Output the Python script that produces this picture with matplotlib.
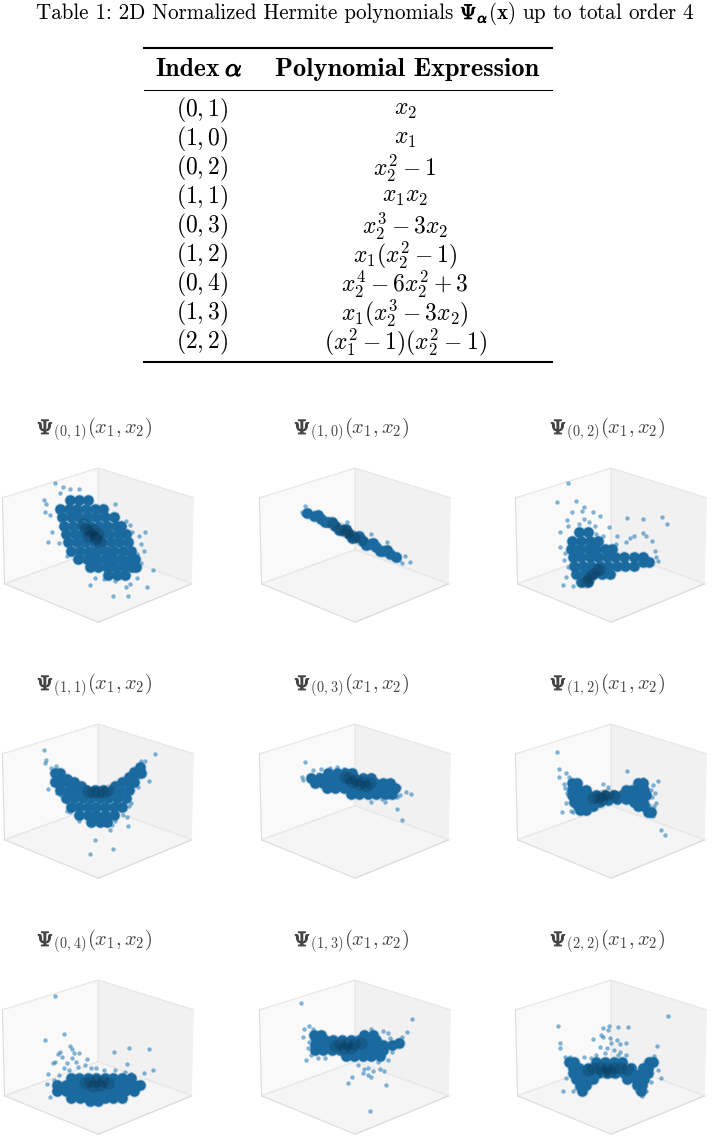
import numpy as np
import matplotlib
matplotlib.use('Agg')
from matplotlib import pyplot as plt
from matplotlib.lines import Line2D
from matplotlib import patheffects as pe

# table content
caption_left = 'Table 1: 2D Normalized Hermite polynomials '
caption_psi = r'$\Psi_{\alpha}$'
caption_rest = r'$(\mathbf{x})$ up to total order 4'
index_labels = ['(0,1)', '(1,0)', '(0,2)', '(1,1)', '(0,3)', '(1,2)', '(0,4)', '(1,3)', '(2,2)']
expressions = ['x_2', 'x_1', 'x_2^2-1', 'x_1x_2', 'x_2^3-3x_2', 'x_1(x_2^2-1)',
               'x_2^4-6x_2^2+3', 'x_1(x_2^3-3x_2)', '(x_1^2-1)(x_2^2-1)']

# clouds as (across, drop) in 1/3 pixel steps
# stray = single dots, body = filled mass, deep = darkest part
stray_01 = [(172,230),(194,241),(240,248),(215,246),(185,258),(139,279),(144,291),(142,315),(157,324),(160,375),(150,404),(180,408),(205,447),(343,292),(315,300),(375,342),(388,352),(393,375),(431,374),(415,385),(420,410),(430,430),(410,440),(420,468),(455,490),(440,540),(382,567),(339,567),(378,541),(390,530),(270,534),(345,523),(285,513),(312,515),(410,512)]
body_01 = [(215,280),(240,280),(265,280),(185,305),(210,305),(235,305),(260,305),(285,305),(310,305),(190,330),(215,330),(240,330),(265,330),(290,330),(315,330),(340,330),(197,355),(222,355),(247,355),(272,355),(297,355),(322,355),(347,355),(362,355),(202,380),(227,380),(252,380),(277,380),(302,380),(327,380),(352,380),(375,380),(207,405),(232,405),(257,405),(282,405),(307,405),(332,405),(357,405),(382,405),(217,430),(242,430),(267,430),(292,430),(317,430),(342,430),(367,430),(392,430),(237,455),(262,455),(287,455),(312,455),(337,455),(362,455),(387,455),(402,455),(270,480),(295,480),(320,480),(345,480),(370,480),(395,480),(405,480),(325,505),(350,505),(375,505)]
deep_01 = [(250,350),(260,365),(270,370),(275,380),(285,390),(290,395),(300,405),(265,385),(295,380),(280,365)]

stray_10 = [(168,297),(160,315),(162,320),(180,312),(290,345),(360,380),(405,405),(460,445),(475,463),(450,468),(440,458)]
body_10 = [(175,318),(195,325),(215,335),(235,345),(255,357),(275,368),(295,380),(315,390),(335,400),(355,410),(375,420),(395,430),(415,440),(432,450),(205,322),(245,345),(285,365),(325,385),(365,408),(405,428),(225,345),(265,368),(305,392),(345,412),(385,432)]
deep_10 = [(250,350),(270,362),(290,375),(310,388),(330,398),(280,370),(300,382)]

stray_02 = [(195,230),(163,284),(218,283),(240,300),(235,312),(205,315),(265,315),(287,325),(190,338),(240,335),(255,345),(225,350),(193,355),(170,373),(270,355),(312,360),(250,372),(275,380),(295,385),(336,385),(364,331),(409,335),(466,328),(481,349),(410,378),(385,385),(372,392),(418,385),(437,402),(360,405),(332,410),(168,418),(182,436),(180,458),(190,480),(185,510),(176,535),(205,538),(450,450),(455,462),(445,430)]
body_02 = [(225,375),(250,375),(205,400),(230,400),(255,400),(280,400),(200,425),(225,425),(250,425),(275,425),(300,425),(320,425),(205,450),(230,450),(255,450),(280,450),(305,450),(330,450),(355,450),(385,450),(410,450),(210,475),(235,475),(260,475),(285,475),(310,475),(335,475),(360,475),(385,475),(410,465),(430,465),(215,500),(240,500),(265,500),(290,500),(315,500),(230,525),(250,525)]
deep_02 = [(255,510),(265,500),(275,490),(285,485),(250,520),(240,525)]

stray_11 = [(139,266),(143,297),(142,304),(459,279),(443,358),(150,383),(160,355),(410,375),(175,395),(185,400),(205,422),(212,450),(205,447),(240,478),(367,460),(380,465),(392,425),(384,432),(383,495),(345,478),(335,490),(330,505),(300,490),(285,535),(272,581),(339,564),(430,298),(420,300),(160,320),(172,315)]
body_11 = [(170,335),(185,335),(410,335),(420,335),(170,360),(190,360),(210,360),(385,360),(400,360),(185,385),(210,385),(235,385),(260,385),(285,385),(310,385),(335,385),(360,385),(385,385),(200,410),(225,410),(250,410),(275,410),(300,410),(325,410),(350,410),(375,410),(215,435),(240,435),(265,435),(290,435),(315,435),(340,435),(365,435),(240,460),(265,460),(290,460),(315,460),(340,460),(275,480),(300,480),(320,480),(225,362),(245,372),(345,372),(365,360),(385,345),(400,330),(415,318),(185,345),(205,352)]
deep_11 = [(280,390),(295,392),(310,390),(265,388),(325,385)]

stray_03 = [(168,302),(192,325),(215,322),(240,320),(260,317),(282,322),(160,345),(162,355),(180,343),(205,337),(440,375),(462,392),(476,396),(445,400),(435,405),(400,420),(360,420),(390,412),(436,442),(450,475),(290,372),(410,405)]
body_03 = [(235,335),(260,335),(285,335),(305,335),(185,350),(210,350),(235,350),(260,350),(285,350),(310,350),(335,350),(360,350),(195,365),(220,365),(245,365),(270,365),(295,365),(320,365),(345,365),(370,365),(395,365),(415,365),(230,380),(255,380),(280,380),(305,380),(330,380),(355,380),(380,380),(405,380),(430,380),(300,398),(325,398),(350,398),(375,398),(400,398),(420,398)]
deep_03 = [(295,350),(315,355),(335,360),(355,365),(305,362),(325,368),(345,372),(285,345)]

stray_12 = [(163,273),(168,323),(186,333),(167,346),(197,347),(182,368),(185,380),(190,395),(185,423),(205,450),(175,451),(200,447),(295,368),(310,375),(364,328),(410,352),(455,358),(440,370),(435,385),(445,395),(438,405),(450,425),(442,432),(430,430),(440,462),(464,507),(478,521),(315,410),(355,405)]
body_12 = [(205,365),(220,365),(395,365),(410,365),(205,385),(225,385),(245,385),(360,385),(380,385),(400,385),(415,385),(205,400),(225,400),(250,400),(275,400),(300,400),(325,400),(350,400),(375,400),(400,400),(420,400),(210,420),(235,420),(260,420),(285,420),(310,415),(335,412),(360,412),(385,420),(410,420),(220,432),(245,432),(265,432),(395,432),(415,432),(228,445),(245,445),(425,450),(435,450)]
deep_12 = [(280,405),(295,400),(310,398),(265,410),(325,402),(290,412)]

stray_04 = [(172,234),(195,346),(141,366),(212,382),(220,392),(224,405),(240,405),(185,400),(177,406),(190,415),(163,435),(168,430),(147,466),(145,498),(152,539),(218,420),(230,432),(205,435),(195,450),(263,422),(258,440),(275,450),(288,449),(340,401),(385,390),(442,393),(379,437),(455,455),(430,464),(312,455),(345,455),(375,460),(390,468),(210,455),(180,470),(165,485),(235,445)]
body_04 = [(215,480),(240,480),(265,480),(290,480),(315,480),(340,480),(365,480),(390,480),(175,500),(200,500),(225,500),(250,500),(275,500),(300,500),(325,500),(350,500),(375,500),(400,500),(418,500),(175,520),(200,520),(225,520),(250,520),(275,520),(300,520),(325,520),(350,520),(375,520),(400,520),(215,540),(240,540),(265,540),(290,540),(315,540),(340,540),(365,540),(270,550),(295,550)]
deep_04 = [(270,490),(290,490),(310,490),(255,495),(325,495),(280,505),(300,500)]

stray_13 = [(158,257),(478,303),(462,341),(450,356),(440,370),(180,323),(164,332),(190,332),(162,355),(178,372),(175,388),(170,425),(183,410),(205,420),(225,418),(360,332),(395,338),(408,345),(415,360),(420,400),(408,425),(290,420),(338,452),(350,450),(365,457),(385,452),(398,458),(335,465),(350,470),(360,477),(305,475),(291,494),(403,500),(358,580),(320,440),(380,430)]
body_13 = [(195,350),(215,350),(340,350),(365,350),(200,365),(225,365),(250,365),(275,365),(300,365),(325,365),(350,365),(375,365),(195,380),(220,380),(245,380),(270,380),(295,380),(320,380),(345,380),(370,380),(395,380),(420,380),(440,375),(195,395),(220,395),(245,395),(270,395),(295,395),(320,395),(345,395),(370,395),(395,395),(285,412),(310,412),(335,412),(360,412),(385,412)]
deep_13 = [(270,378),(290,378),(310,378),(330,375),(255,382),(300,390),(280,390)]

stray_22 = [(483,295),(164,324),(295,328),(312,322),(310,335),(337,327),(367,325),(290,350),(265,362),(295,355),(315,360),(335,364),(168,373),(168,390),(360,375),(345,378),(318,375),(285,385),(305,390),(325,395),(450,382),(442,412),(300,405),(275,410),(240,415),(197,417),(182,415),(360,410),(345,400),(455,455),(465,480),(435,492),(185,478),(175,520),(205,520),(215,510),(230,525),(410,535),(420,520),(395,520),(260,420),(338,410)]
body_22 = [(195,432),(210,432),(430,432),(440,432),(275,432),(300,432),(325,432),(350,432),(205,448),(225,448),(250,448),(275,448),(300,448),(325,448),(350,448),(375,448),(410,448),(425,448),(205,465),(230,465),(255,465),(280,465),(305,465),(330,465),(355,465),(380,465),(405,465),(425,465),(215,482),(240,482),(265,482),(365,482),(390,482),(415,482),(225,500),(245,500),(395,500),(410,500),(232,518),(405,518)]
deep_22 = [(265,450),(285,450),(305,450),(325,450),(345,450),(365,452),(295,460),(250,455),(315,462)]

all_stray = [stray_01, stray_10, stray_02, stray_11, stray_03, stray_12, stray_04, stray_13, stray_22]
all_body = [body_01, body_10, body_02, body_11, body_03, body_12, body_04, body_13, body_22]
all_deep = [deep_01, deep_10, deep_02, deep_11, deep_03, deep_12, deep_04, deep_13, deep_22]

W, H = 712, 1142
plt.rcParams['font.family'] = 'cmr10'
plt.rcParams['mathtext.fontset'] = 'cm'
plt.rcParams['axes.formatter.use_mathtext'] = True

fig = plt.figure(figsize=(W / 100, H / 100), dpi=100)
rend = fig.canvas.get_renderer()

def put(x, y, s, size, ha='center', va='center', **kw):
    return fig.text(x / W, 1 - y / H, s, fontsize=size, ha=ha, va=va, **kw)

def text_w(s, size):
    t = fig.text(0, 0, s, fontsize=size)
    w = t.get_window_extent(rend).width
    t.remove()
    return w

def thick(t, col='black', lw=0.6):
    # cm math has no bold greek, so stroke the glyph
    t.set_path_effects([pe.withStroke(linewidth=lw, foreground=col)])

def rule(y, lw):
    fig.add_artist(Line2D([144 / W, 552 / W], [1 - y / H, 1 - y / H], color='black', lw=lw))

# caption in three pieces so the symbol can be bold
cap_size = 15.1
put(36, 19, caption_left.strip(), cap_size, ha='left', va='baseline')
psi_x = 36 + text_w(caption_left + caption_psi, cap_size) - text_w(caption_psi, cap_size)
thick(put(psi_x, 19, caption_psi, cap_size, ha='left', va='baseline'))
rest_x = 36 + text_w(caption_left + caption_psi + caption_rest, cap_size) - text_w(caption_rest, cap_size)
put(rest_x, 19, caption_rest, cap_size, ha='left', va='baseline')

rule(48, 1.5)
rule(90, 0.75)
rule(362, 1.5)
put(155, 76, 'Index', 18.5, ha='left', va='baseline', family='cmb10')
thick(put(225, 76, r'$\alpha$', 18.5, ha='left', va='baseline'), lw=0.8)
put(407, 76, 'Polynomial Expression', 19, va='baseline', family='cmb10')
for i in range(9):
    y = 110 + i * 29
    put(202, y, '$' + index_labels[i] + '$', 17)
    put(405, y, '$' + expressions[i] + '$', 17)

# panel layout, pixel centre of each box and of each crop
col_px = [94.5, 351.5, 607.5]
row_px = [545, 801, 1057]
col_crop = [295, 313, 318]
row_crop = [402, 407, 405]
title_px = [37, 294, 550]
title_py = [434, 690, 946]
side = 270
title_size = 14.7

for i in range(9):
    r, c = divmod(i, 3)
    ax = fig.add_axes([(col_px[c] - side / 2) / W, 1 - (row_px[r] + side / 2) / H, side / W, side / H],
                      projection='3d')
    ax.computed_zorder = False
    ax.view_init(elev=21, azim=-135)
    ax.set_box_aspect((4, 4, 2.75), zoom=0.757)
    ax.set_xlim(-276, 276, view_margin=0)
    ax.set_ylim(-276, 276, view_margin=0)
    ax.set_zlim(-129, 129, view_margin=0)
    ax.set_xticks([])
    ax.set_yticks([])
    ax.set_zticks([])
    ax.grid(False)
    ax.patch.set_alpha(0)
    ax.xaxis.set_pane_color('#f1f1f1')
    ax.yaxis.set_pane_color('#f9f9f9')
    ax.zaxis.set_pane_color('#f5f5f5')
    for axis in (ax.xaxis, ax.yaxis, ax.zaxis):
        axis.pane.set_edgecolor('#e8e8e8')
        axis.line.set_color('#dcdcdc')

    # depth is not readable from the picture, all points sit on the plane x2 = -x1
    for pts, col, size, a, z in ((all_stray[i], '#1f77b4', 10, 0.55, 1),
                                 (all_body[i], '#2a7db5', 80, 0.3, 2),
                                 (all_body[i], '#1b6a9f', 56, 1.0, 3),
                                 (all_deep[i], '#04263f', 80, 0.2, 4)):
        p = np.array(pts, dtype=float)
        across = p[:, 0] - col_crop[c]
        height = row_crop[r] - p[:, 1]
        ax.scatter(across, -across, height, s=size, c=col, alpha=a, linewidths=0,
                   depthshade=False, zorder=z)

    psi = r'$\Psi$'
    rest = r'${}_{' + index_labels[i] + r'}(x_1,x_2)$'
    thick(put(title_px[c], title_py[r], psi, title_size, ha='left', va='baseline', color='#444444'), '#444444', 0.8)
    x = title_px[c] + text_w(psi + rest, title_size) - text_w(rest, title_size)
    put(x, title_py[r], rest, title_size, ha='left', va='baseline', color='#444444')

fig.savefig('out.png', dpi=100)
